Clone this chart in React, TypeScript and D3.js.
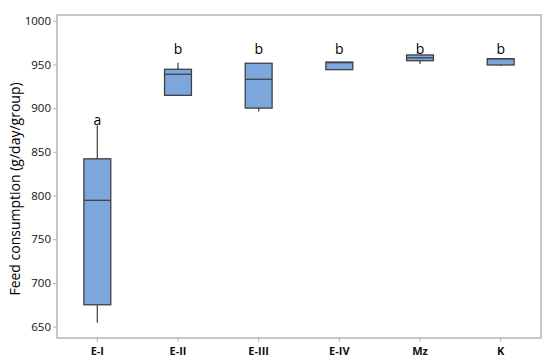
import { useEffect, useRef } from "react";
import * as d3 from "d3";

// groups and box statistics (g/day/group)
const groups = ["E-I", "E-II", "E-III", "E-IV", "Mz", "K"];
const whiskerLow = [654.5, 914.6, 896, 944, 950.5, 948.2];
const q1 = [675, 914.6, 900, 944, 954.2, 949.3];
const median = [794.5, 938.7, 933, 952, 957.5, 956.5];
const q3 = [842, 944.4, 951.3, 952.7, 960.8, 956.5];
const whiskerHigh = [880, 952, 951.3, 952.7, 960.8, 956.5];
// significance letters and the value at which their baseline sits
const letters = ["a", "b", "b", "b", "b", "b"];
const letterAt = [881, 962, 962, 962, 962, 962];
const yTicks = [650, 700, 750, 800, 850, 900, 950, 1000];

const W = 550;
const H = 361;
const margin = { top: 15, right: 9, bottom: 23, left: 57 };
const FONT = "'Open Sans', 'Noto Sans', sans-serif";

export default function App() {
  const svgRef = useRef<SVGSVGElement>(null);

  useEffect(() => {
    if (!svgRef.current) return;
    const svg = d3.select(svgRef.current);
    svg.selectAll("*").remove();

    const x = d3.scaleBand<string>()
      .domain(groups)
      .range([margin.left, W - margin.right])
      .paddingInner(0)
      .paddingOuter(0);

    const y = d3.scaleLinear()
      .domain([637, 1006.5])
      .range([H - margin.bottom, margin.top]);

    const boxW = x.bandwidth() / 3;

    // plot frame
    svg.append("rect")
      .attr("x", margin.left)
      .attr("y", margin.top)
      .attr("width", W - margin.left - margin.right)
      .attr("height", H - margin.top - margin.bottom)
      .attr("fill", "none")
      .attr("stroke", "#b4b4b4")
      .attr("stroke-width", 1.5);

    // y axis
    const yAxis = svg.append("g")
      .attr("transform", `translate(${margin.left},0)`)
      .call(d3.axisLeft(y).tickValues(yTicks).tickSize(4).tickPadding(2).tickFormat(d3.format("d")));
    yAxis.select(".domain").remove();
    yAxis.selectAll("line").attr("stroke", "#b4b4b4");
    yAxis.selectAll("text")
      .attr("font-family", FONT)
      .attr("font-size", 11.5)
      .attr("fill", "#111");

    // x axis
    const xAxis = svg.append("g")
      .attr("transform", `translate(0,${H - margin.bottom})`)
      .call(d3.axisBottom(x).tickSize(4).tickPadding(5));
    xAxis.select(".domain").remove();
    xAxis.selectAll("line").attr("stroke", "#b4b4b4");
    xAxis.selectAll("text")
      .attr("font-family", FONT)
      .attr("font-size", 11)
      .attr("font-weight", "bold")
      .attr("fill", "#111");

    // y axis title
    svg.append("text")
      .attr("transform", `translate(20,189) rotate(-90)`)
      .attr("text-anchor", "middle")
      .attr("font-family", FONT)
      .attr("font-size", 14)
      .attr("font-weight", 500)
      .attr("fill", "#000")
      .text("Feed consumption (g/day/group)");

    const boxes = svg.append("g")
      .selectAll("g")
      .data(groups.map((g, i) => ({ g, i })))
      .join("g")
      .attr("transform", d => `translate(${(x(d.g) ?? 0) + x.bandwidth() / 2},0)`);

    // whiskers
    boxes.append("line")
      .attr("y1", d => y(whiskerHigh[d.i]))
      .attr("y2", d => y(q3[d.i]))
      .attr("stroke", "#4a4a4a")
      .attr("stroke-width", 1.3);
    boxes.append("line")
      .attr("y1", d => y(q1[d.i]))
      .attr("y2", d => y(whiskerLow[d.i]))
      .attr("stroke", "#4a4a4a")
      .attr("stroke-width", 1.3);

    // boxes
    boxes.append("rect")
      .attr("x", -boxW / 2)
      .attr("y", d => y(q3[d.i]))
      .attr("width", boxW)
      .attr("height", d => y(q1[d.i]) - y(q3[d.i]))
      .attr("fill", "#7ba7dc")
      .attr("stroke", "#404040")
      .attr("stroke-width", 1.3);

    // medians
    boxes.append("line")
      .attr("x1", -boxW / 2)
      .attr("x2", boxW / 2)
      .attr("y1", d => y(median[d.i]))
      .attr("y2", d => y(median[d.i]))
      .attr("stroke", "#404040")
      .attr("stroke-width", 1.3);

    // letters
    boxes.append("text")
      .attr("y", d => y(letterAt[d.i]))
      .attr("text-anchor", "middle")
      .attr("font-family", FONT)
      .attr("font-size", 14)
      .attr("fill", "#000")
      .text(d => letters[d.i]);
  }, []);

  return (
    <svg
      ref={svgRef}
      width={W}
      height={H}
      style={{ position: "absolute", left: 0, top: 0, background: "#fff" }}
    />
  );
}
